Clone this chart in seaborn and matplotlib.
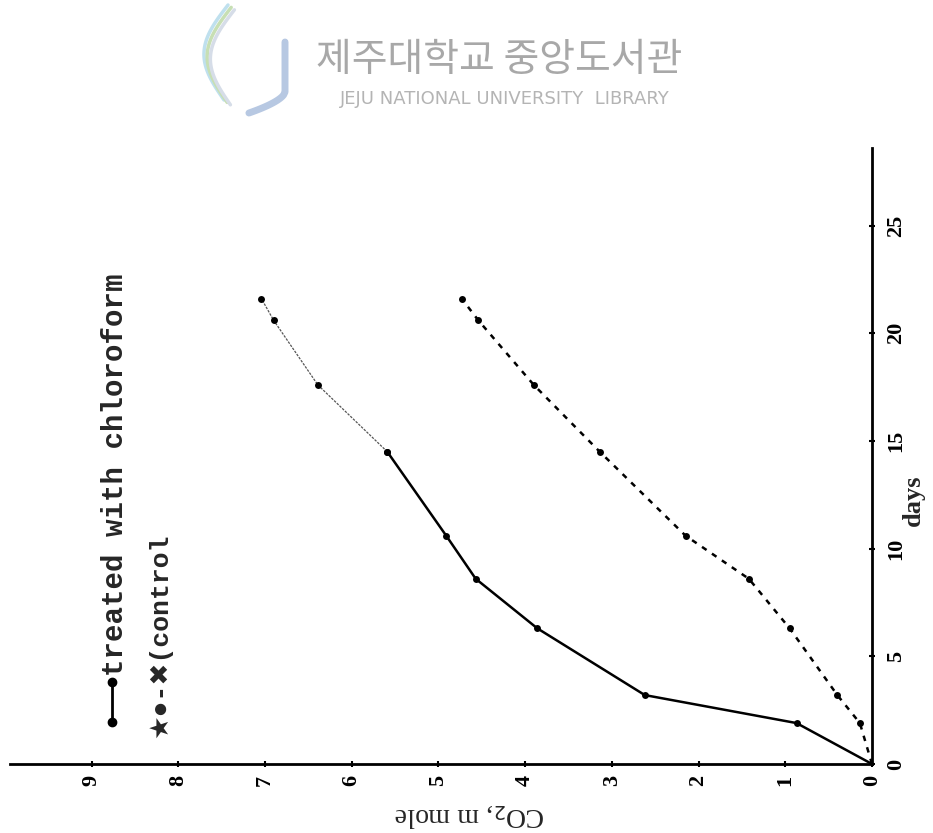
import numpy as np
import pandas as pd
import matplotlib
matplotlib.use("Agg")
import matplotlib.pyplot as plt
from matplotlib.lines import Line2D
import seaborn as sns

# ---- data ----
days = [0, 1.9, 3.2, 6.3, 8.6, 10.6, 14.5, 17.6, 20.6, 21.6]
treated_co2 = [0, 0.87, 2.62, 3.86, 4.57, 4.91, 5.59, 6.39, 6.90, 7.04]
control_co2 = [0, 0.14, 0.40, 0.95, 1.42, 2.15, 3.14, 3.90, 4.54, 4.73]
co2_ticks = [0, 1, 2, 3, 4, 5, 6, 7, 8, 9]
day_ticks = [0, 5, 10, 15, 20, 25]
legend_treated = "treated with chloroform"
legend_control = "\u2605\u25cf-\u2716(control"
x_label = "CO$_2$, m mole"
y_label = "days"
wm_kr = "제주대학교 중앙도서관"
wm_en = "JEJU NATIONAL UNIVERSITY  LIBRARY"

sns.set_theme(style="white")
plt.rcParams["font.family"] = ["Liberation Serif", "DejaVu Sans"]

df = pd.DataFrame({"days": days, "treated": treated_co2, "control": control_co2})
n_solid = 7  # solid part of treated curve up to day 14.5

W, H = 933, 833
fig = plt.figure(figsize=(W / 100, H / 100), dpi=100)
fig.patch.set_facecolor("white")
ax = fig.add_axes([10 / W, 69 / H, 862 / W, 616 / H])

# treated: solid part then faint part
sns.lineplot(data=df.iloc[:n_solid], x="treated", y="days", sort=False, estimator=None,
             color="black", lw=1.8, marker="o", markersize=5, markeredgewidth=0, ax=ax)
sns.lineplot(data=df.iloc[n_solid - 1:], x="treated", y="days", sort=False, estimator=None,
             color="#555555", lw=0.9, ls=(0, (2, 1)), marker="o", markersize=5,
             markerfacecolor="black", markeredgewidth=0, ax=ax)
# control: dashed
sns.lineplot(data=df, x="control", y="days", sort=False, estimator=None,
             color="black", lw=1.8, ls=(0, (2.2, 2.6)), marker="o", markersize=5,
             markeredgewidth=0, ax=ax)

ax.set_xlim(9.94, 0)
ax.set_ylim(0, 28.6)
ax.set_xticks(co2_ticks)
ax.set_xticklabels([str(v) for v in co2_ticks])
ax.set_yticks(day_ticks)
ax.set_yticklabels([str(v) for v in day_ticks])
ax.yaxis.tick_right()
ax.yaxis.set_label_position("right")

for s in ["top", "left"]:
    ax.spines[s].set_visible(False)
for s in ["bottom", "right"]:
    ax.spines[s].set_visible(True)
    ax.spines[s].set_linewidth(2)
    ax.spines[s].set_color("black")

ax.tick_params(axis="x", bottom=True, direction="inout", length=4, width=1.5,
               labelrotation=90, labelsize=16, pad=6, colors="black")
ax.tick_params(axis="y", right=True, left=False, direction="inout", length=4, width=1.5,
               labelrotation=90, labelsize=16, pad=8, colors="black")
for lab in ax.get_yticklabels() + ax.get_xticklabels():
    lab.set_fontweight("bold")
for lab in ax.get_yticklabels():
    lab.set_va("center")

ax.set_xlabel(x_label, fontsize=20, rotation=180)
ax.xaxis.set_label_coords((470 - 10) / 862, -(815 - 764) / 616)
ax.set_ylabel(y_label, fontsize=19, fontweight="bold", rotation=90)
ax.yaxis.set_label_coords((913 - 10) / 862, (764 - 500) / 616)
ax.xaxis.label.set_va("center")
ax.yaxis.label.set_va("center")
ax.set_facecolor("white")
ax.grid(False)

# legend (drawn as in the original: vertical text)
fig.add_artist(Line2D([112 / W, 112 / W], [1 - 682 / H, 1 - 722 / H], transform=fig.transFigure,
                      color="black", lw=2, marker="o", markersize=6))
fig.text(115 / W, 1 - 676 / H, legend_treated, rotation=90, ha="center", va="bottom",
         fontsize=21, fontweight="bold", family=["Liberation Mono", "DejaVu Sans Mono"])
fig.text(160 / W, 1 - 738 / H, legend_control, rotation=90, ha="center", va="bottom",
         fontsize=19, fontweight="bold", family=["Liberation Mono", "DejaVu Sans"])

# watermark
fig.text(499 / W, 1 - 60 / H, wm_kr, ha="center", va="center", fontsize=28,
         color="#a8a8a8", family=["Noto Sans CJK KR", "DejaVu Sans"])
fig.text(505 / W, 1 - 99 / H, wm_en, ha="center", va="center", fontsize=13,
         color="#b4b4b4", family=["DejaVu Sans"])
# logo (rough)
t = np.linspace(0, 1, 50)
jx = np.concatenate([np.full(20, 285.0), 285 - 45 * np.sin(t[:30] * np.pi / 2)])
jy = np.concatenate([np.linspace(42, 92, 20), 92 + 24 * np.sin(t[:30] * np.pi / 2) ** 0.6])
fig.add_artist(Line2D(jx / W, 1 - jy / H, transform=fig.transFigure, color="#b7c8e2", lw=5,
                      solid_capstyle="round"))
for off, col in [(0, "#bfe0ee"), (8, "#c7dfb4"), (16, "#d6dde8")]:
    sx = 228 + off * 0.4 - 22 * np.sin(t * np.pi) - 4 * t
    sy = 5 + off * 0.3 + 95 * t
    fig.add_artist(Line2D(sx / W, 1 - sy / H, transform=fig.transFigure, color=col, lw=2.5))

fig.savefig("out.png", dpi=100, facecolor="white")
